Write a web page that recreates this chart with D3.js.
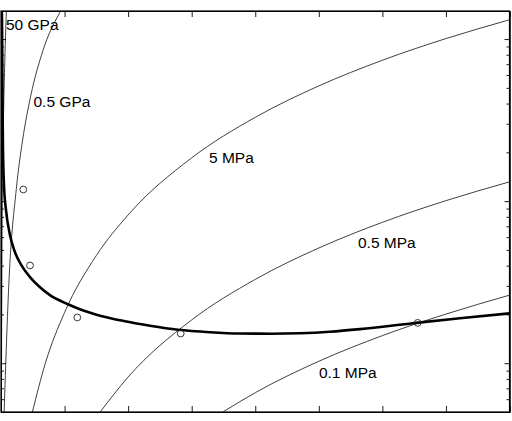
<!DOCTYPE html>
<html>
<head>
<meta charset="utf-8">
<script src="https://cdn.jsdelivr.net/npm/d3@7"></script>
<style>
  html, body { margin: 0; padding: 0; background: #fff; }
  svg { display: block; }
  text { font-family: "Liberation Sans", Arial, Helvetica, sans-serif; }
</style>
</head>
<body>
<svg id="chart" width="512" height="421"></svg>
<script>
// ---- data ----
const xTickValues = [0, 0.5, 1, 1.5, 2, 2.5, 3, 3.5, 4];
const xTickLabels = ["0", "0.5", "1", "1.5", "2", "2.5", "3", "3.5", "4"];
const yMajorTicks = [1, 10, 100];

// thick measured/fit curve
const fitX = [0.004, 0.0079, 0.0118, 0.0157, 0.0236, 0.0393, 0.0708, 0.110, 0.165, 0.228, 0.307, 0.385, 0.527, 0.621, 0.779, 0.975, 1.172, 1.392, 1.644, 1.880, 2.116, 2.352, 2.588, 2.824, 3.241, 3.610, 4.0];
const fitY = [160, 131, 42, 20.6, 12.5, 8.8, 6.17, 4.84, 3.97, 3.40, 2.94, 2.63, 2.31, 2.15, 1.965, 1.816, 1.704, 1.609, 1.553, 1.525, 1.521, 1.531, 1.564, 1.622, 1.765, 1.896, 2.03];

// circle markers
const ptX = [0.1754, 0.2281, 0.6002, 1.4136, 3.2778];
const ptY = [11.8, 4.01, 1.915, 1.525, 1.774];

// thin labelled curves
const gpa50X = [0.0025, 0.008, 0.017, 0.030, 0.0426];
const gpa50Y = [0.51, 5.26, 23.8, 74, 149];
const gpa05X = [0.0245, 0.063, 0.12, 0.17, 0.235, 0.33, 0.47];
const gpa05Y = [0.5, 3.25, 11.8, 23.8, 45, 85, 149];
const mpa5X = [0.245, 0.35, 0.5, 0.75, 1.0, 1.5, 2.0, 2.5, 3.0, 3.5, 4.0];
const mpa5Y = [0.493, 1.007, 2.055, 4.62, 8.22, 18.5, 32.9, 51.4, 74.0, 100.7, 131.5];
const mpa05X = [0.78, 1.0, 1.5, 2.0, 2.5, 3.0, 3.5, 4.0];
const mpa05Y = [0.5, 0.822, 1.85, 3.29, 5.14, 7.40, 10.07, 13.15];
const mpa01X = [1.745, 2.0, 2.5, 3.0, 3.5, 4.0];
const mpa01Y = [0.5, 0.658, 1.028, 1.48, 2.01, 2.63];

const curveLabels = ["50 GPa", "0.5 GPa", "5 MPa", "0.5 MPa", "0.1 MPa"];
// label anchor positions in data units (left, baseline)
const labelX = [0.0393, 0.2557, 1.636, 2.808, 2.501];
const labelY = [113.6, 38.3, 17.2, 5.14, 0.805];

// ---- drawing ----
const svg = d3.select("#chart");
const L = 1, R = 509.5, T = 11, B = 412;
const x = d3.scaleLinear().domain([0, 4]).range([L, R]);
const y = d3.scaleLog().domain([0.5, 149]).range([B, T]);

svg.append("defs").append("clipPath").attr("id", "clip")
  .append("rect").attr("x", L).attr("y", T).attr("width", R - L).attr("height", B - T);

const plot = svg.append("g").attr("clip-path", "url(#clip)");

const line = d3.line().x(d => x(d[0])).y(d => y(d[1])).curve(d3.curveMonotoneX);
const zip = (a, b) => a.map((v, i) => [v, b[i]]);

const thin = [[gpa50X, gpa50Y], [gpa05X, gpa05Y], [mpa5X, mpa5Y], [mpa05X, mpa05Y], [mpa01X, mpa01Y]];
thin.forEach(([xs, ys]) => {
  plot.append("path").datum(zip(xs, ys))
    .attr("d", line).attr("fill", "none")
    .attr("stroke", "#2a2a2a").attr("stroke-width", 0.9);
});

plot.append("path").datum(zip(fitX, fitY))
  .attr("d", line).attr("fill", "none")
  .attr("stroke", "#000").attr("stroke-width", 2.6);

plot.selectAll("circle.pt").data(zip(ptX, ptY)).enter().append("circle")
  .attr("class", "pt")
  .attr("cx", d => x(d[0])).attr("cy", d => y(d[1])).attr("r", 3.4)
  .attr("fill", "none").attr("stroke", "#222").attr("stroke-width", 0.9);

curveLabels.forEach((t, i) => {
  svg.append("text").attr("x", x(labelX[i])).attr("y", y(labelY[i]))
    .attr("font-size", 15.5).attr("fill", "#000").text(t);
});

// axes (MATLAB-like box with inward ticks)
const axB = svg.append("g").attr("transform", `translate(0,${B})`)
  .call(d3.axisBottom(x).tickValues(xTickValues).tickSize(-6).tickPadding(8)
        .tickFormat((d, i) => xTickLabels[i]));
const axT = svg.append("g").attr("transform", `translate(0,${T})`)
  .call(d3.axisTop(x).tickValues(xTickValues).tickSize(-6).tickFormat(""));

const allY = y.ticks().filter(v => v >= 0.5 && v <= 149);
const minorY = allY.filter(v => !yMajorTicks.includes(v));
[[d3.axisLeft, L], [d3.axisRight, R]].forEach(([fn, px]) => {
  svg.append("g").attr("transform", `translate(${px},0)`)
    .call(fn(y).tickValues(yMajorTicks).tickSize(-5).tickFormat(""));
  svg.append("g").attr("transform", `translate(${px},0)`)
    .call(fn(y).tickValues(minorY).tickSize(-3).tickFormat(""));
});

svg.selectAll(".domain").attr("stroke", "#000").attr("stroke-width", 1);
svg.selectAll(".tick line").attr("stroke", "#000").attr("stroke-width", 0.9);
axB.selectAll("text").attr("font-size", 15.5).attr("fill", "#000")
  .attr("font-family", "Liberation Sans, Arial, sans-serif")
  .attr("dy", null).attr("y", 19);

// frame
svg.append("rect").attr("x", L).attr("y", T).attr("width", R - L).attr("height", B - T)
  .attr("fill", "none").attr("stroke", "#000").attr("stroke-width", 1.2);
</script>
</body>
</html>
